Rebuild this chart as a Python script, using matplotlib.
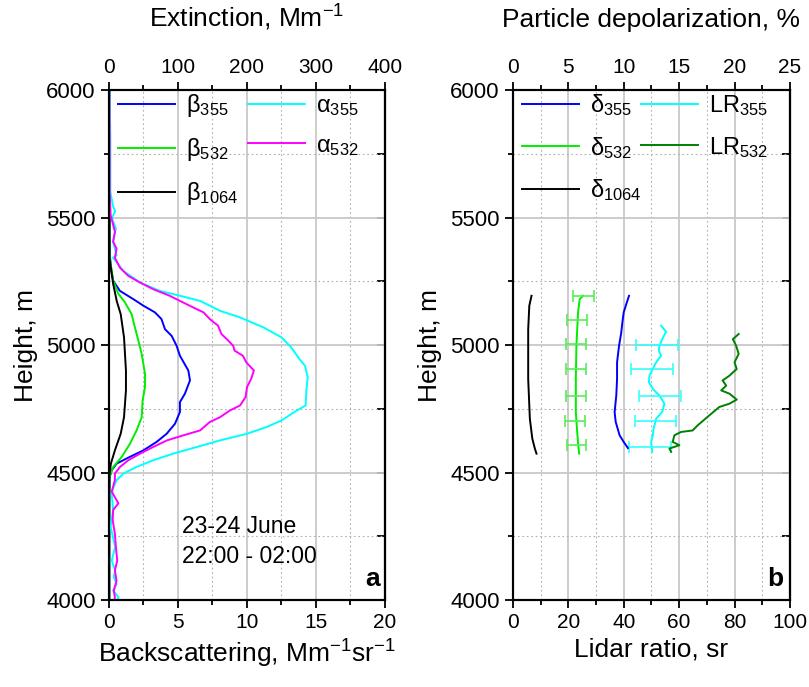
import numpy as np
import matplotlib
matplotlib.use("Agg")
import matplotlib.pyplot as plt
from matplotlib.ticker import MultipleLocator

plt.rcParams['font.family'] = ['Liberation Sans', 'DejaVu Sans']
plt.rcParams['mathtext.fontset'] = 'custom'
plt.rcParams['mathtext.rm'] = 'Liberation Sans'
plt.rcParams['mathtext.it'] = 'Liberation Sans:italic'
plt.rcParams['mathtext.bf'] = 'Liberation Sans:bold'

# ---- panel a: backscattering (Mm-1 sr-1) ----
h_b355 = [6000, 5800, 5600, 5450, 5342, 5290, 5251, 5212, 5180, 5154, 5128, 5102, 5062, 5036,
          4997, 4958, 4900, 4861, 4809, 4776, 4737, 4691, 4652, 4620, 4587, 4561, 4535, 4509,
          4483, 4400, 4200, 4000]
b355 = [0.05, 0.05, 0.05, 0.05, 0.08, 0.18, 0.31, 0.8, 1.76, 2.5, 3.33, 3.8, 4.06, 4.54,
        4.9, 5.14, 5.75, 5.87, 5.5, 5.14, 5.14, 4.78, 4.18, 3.45, 2.5, 1.5, 0.56, 0.2,
        0.05, 0.03, 0.03, 0.03]

h_b532 = [6000, 5600, 5342, 5251, 5201, 5167, 5121, 5069, 5017, 4965, 4887, 4835, 4783, 4717,
          4665, 4613, 4561, 4522, 4483, 4300, 4000]
b532 = [0.03, 0.03, 0.05, 0.31, 0.68, 1.16, 1.64, 1.88, 2.13, 2.37, 2.61, 2.61, 2.44, 2.37,
        2.0, 1.52, 0.92, 0.31, 0.03, 0.02, 0.02]

h_b1064 = [6000, 5600, 5342, 5238, 5173, 5121, 5030, 4900, 4822, 4717, 4652, 4587, 4535, 4483,
           4300, 4000]
b1064 = [0.02, 0.02, 0.03, 0.31, 0.56, 0.85, 1.09, 1.23, 1.23, 1.09, 0.85, 0.43, 0.14, 0.02,
         0.01, 0.01]

# extinction (Mm-1)
h_a355 = [6000, 5800, 5600, 5544, 5524, 5497, 5458, 5405, 5352, 5342, 5290, 5245, 5212, 5193,
          5173, 5134, 5108, 5069, 5030, 4991, 4945, 4919, 4874, 4822, 4763, 4743, 4704, 4678,
          4652, 4626, 4600, 4574, 4548, 4522, 4496, 4470, 4437, 4418, 4353, 4287, 4208, 4155,
          4116, 4090, 4063, 4037, 4010, 4000]
a355 = [1, 2, 2, 6, 9, 4, 10, 6, 11, 6, 21, 45, 74, 103,
        132, 161, 190, 224, 250, 264, 276, 284, 288, 286, 285, 272, 250, 228,
        200, 161, 127, 93, 64, 40, 21, 11, 6, 4, 6, 2.4, 9, 4,
        9, 7, 11, 6, 14, 12]

h_a532 = [6000, 5800, 5600, 5510, 5444, 5405, 5378, 5342, 5303, 5271, 5245, 5219, 5193, 5154,
          5128, 5102, 5076, 5043, 5017, 4997, 4978, 4958, 4932, 4900, 4867, 4835, 4796, 4763,
          4743, 4717, 4698, 4665, 4646, 4626, 4600, 4574, 4548, 4522, 4496, 4471, 4425, 4379,
          4353, 4313, 4260, 4208, 4155, 4116, 4076, 4037, 4010, 4000]
a532 = [0.5, 1, 1, 2.4, 8.6, 6, 11, 8.6, 16, 28, 45, 64, 88, 117,
        137, 146, 158, 163, 173, 180, 182, 194, 199, 210, 206, 200, 198, 190,
        175, 161, 146, 132, 108, 84, 64, 45, 28, 16, 8.6, 8.6, 4, 13.6,
        6, 5.4, 8.6, 10, 12, 8.6, 11, 7, 8.6, 8]

# ---- panel b: depolarization (%) and lidar ratio (sr) ----
h_d1064 = [5193, 5154, 5062, 4867, 4711, 4633, 4594, 4574]
d1064 = [1.68, 1.48, 1.38, 1.38, 1.53, 1.75, 1.98, 2.13]

h_d532 = [5193, 5180, 5128, 4997, 4867, 4737, 4659, 4607, 4574]
d532 = [6.33, 6.03, 5.88, 5.73, 5.68, 5.68, 5.8, 5.9, 5.98]
h_d532_err = [5193, 5099, 5004, 4904, 4800, 4702, 4607]
d532_err_val = [6.33, 5.8, 5.7, 5.7, 5.69, 5.6, 5.76]
d532_err = [0.95, 0.88, 0.88, 0.88, 0.88, 0.88, 0.88]

h_d355 = [5193, 5160, 5128, 5089, 5049, 4997, 4932, 4867, 4802, 4737, 4698, 4646, 4620, 4596]
d355 = [10.48, 10.23, 10.0, 9.88, 9.78, 9.58, 9.4, 9.4, 9.33, 9.18, 9.28, 9.63, 10.0, 10.38]

h_lr355 = [5076, 5052, 5023, 4997, 4978, 4958, 4932, 4906, 4880, 4854, 4828, 4802, 4770, 4737,
           4711, 4672, 4646, 4620, 4581]
lr355 = [53.5, 55.3, 53.9, 52.9, 52.7, 53.5, 51.7, 50.5, 49.3, 49.1, 50.5, 52.9, 54.7, 53.9,
         51.7, 50.8, 50.5, 49.9, 50.3]
h_lr355_err = [5001, 4904, 4800, 4702, 4600]
lr355_err_val = [52.0, 50.3, 53.1, 51.5, 49.6]
lr355_err = [7.7, 7.5, 7.6, 7.4, 7.6]

h_lr532 = [5043, 5023, 4997, 4965, 4932, 4906, 4880, 4861, 4841, 4822, 4809, 4786, 4770, 4757,
           4724, 4685, 4665, 4659, 4646, 4620, 4607, 4594, 4581]
lr532 = [81.5, 79.4, 80.6, 81.5, 80.0, 80.8, 78.2, 75.7, 77.0, 75.2, 78.2, 80.8, 78.2, 74.5,
         70.9, 66.7, 64.9, 60.7, 58.3, 57.7, 60.1, 56.5, 57.1]

LW = 1.4
TICK_X = 15
TICK_Y = 16
LAB = 19


def style_axes(ax, top, xmax, xmaj, xmin, tmax, tmaj, tmin):
    ax.set_xlim(0, xmax)
    ax.set_ylim(4000, 6000)
    ax.xaxis.set_major_locator(MultipleLocator(xmaj))
    ax.xaxis.set_minor_locator(MultipleLocator(xmin))
    ax.yaxis.set_major_locator(MultipleLocator(500))
    ax.yaxis.set_minor_locator(MultipleLocator(250))
    ax.grid(which='major', color='#c8c8c8', lw=1.3, ls='-')
    ax.grid(which='minor', color='#b0b0b0', lw=0.8, ls=(0, (1.5, 2.5)))
    ax.set_axisbelow(True)
    ax.tick_params(which='both', direction='out', width=1.3, top=False, right=False)
    ax.tick_params(axis='x', labelsize=TICK_X)
    ax.tick_params(axis='y', labelsize=TICK_Y)
    ax.tick_params(which='major', length=6)
    ax.tick_params(which='minor', length=3.5)
    sec = ax.secondary_yaxis('right')
    sec.yaxis.set_major_locator(MultipleLocator(500))
    sec.yaxis.set_minor_locator(MultipleLocator(250))
    sec.tick_params(which='both', direction='in', width=1.3, labelright=False)
    sec.tick_params(which='major', length=6)
    sec.tick_params(which='minor', length=6)
    sec.spines['right'].set_linewidth(1.5)
    top.set_xlim(0, tmax)
    top.xaxis.set_major_locator(MultipleLocator(tmaj))
    top.xaxis.set_minor_locator(MultipleLocator(tmin))
    top.tick_params(which='both', direction='out', width=1.3, labelsize=TICK_X)
    top.tick_params(which='major', length=6)
    top.tick_params(which='minor', length=3.5)
    for a in (ax, top):
        for s in a.spines.values():
            s.set_linewidth(1.5)
    ax.set_ylabel('Height, m', fontsize=LAB, labelpad=6)


fig = plt.figure(figsize=(8.09, 6.87), dpi=100)
ax1 = fig.add_axes([0.1347, 0.1266, 0.3412, 0.7424])
ax1t = ax1.twiny()
ax2 = fig.add_axes([0.634, 0.1266, 0.3424, 0.7424])
ax2t = ax2.twiny()

style_axes(ax1, ax1t, 20, 5, 2.5, 400, 100, 50)
style_axes(ax2, ax2t, 100, 20, 10, 25, 5, 2.5)

leg_kw = dict(ncol=2, loc='upper left', bbox_to_anchor=(0.0, 1.015), frameon=False,
              fontsize=17, handlelength=2.4, handletextpad=0.45, labelspacing=0.72,
              borderaxespad=0.0)

# panel a
l1, = ax1.plot(b355, h_b355, color='#0000ff', lw=LW, label=r'$\mathregular{β_{355}}$')
l2, = ax1.plot(b532, h_b532, color='#00ee00', lw=LW, label=r'$\mathregular{β_{532}}$')
l3, = ax1.plot(b1064, h_b1064, color='black', lw=LW, label=r'$\mathregular{β_{1064}}$')
l4, = ax1t.plot(a355, h_a355, color='#00ffff', lw=LW, label=r'$\mathregular{α_{355}}$')
l5, = ax1t.plot(a532, h_a532, color='#ff00ff', lw=LW, label=r'$\mathregular{α_{532}}$')
ax1t.set_ylim(4000, 6000)

ax1.set_xlabel(r'Backscattering, Mm$^{\mathregular{-1}}$sr$^{\mathregular{-1}}$', fontsize=LAB, labelpad=4)
ax1t.set_xlabel(r'Extinction, Mm$^{\mathregular{-1}}$', fontsize=LAB, labelpad=22)
ax1t.legend(handles=[l1, l2, l3, l4, l5], columnspacing=0.45, **leg_kw)
ax1.text(0.264, 0.131, '23-24 June', transform=ax1.transAxes, fontsize=16.5, va='baseline')
ax1.text(0.264, 0.072, '22:00 - 02:00', transform=ax1.transAxes, fontsize=16.5, va='baseline')
ax1.text(0.982, 0.027, 'a', transform=ax1.transAxes, fontsize=19, fontweight='bold',
         ha='right', va='baseline')

# panel b
m1, = ax2t.plot(d355, h_d355, color='#0000ff', lw=LW, label=r'$\mathregular{δ_{355}}$')
m2, = ax2t.plot(d532, h_d532, color='#00ee00', lw=LW, label=r'$\mathregular{δ_{532}}$')
ax2t.errorbar(d532_err_val, h_d532_err, xerr=d532_err, fmt='none', ecolor='#55ee55',
              elinewidth=1.2, capsize=4, capthick=1.2)
m3, = ax2t.plot(d1064, h_d1064, color='black', lw=LW, label=r'$\mathregular{δ_{1064}}$')
m4, = ax2.plot(lr355, h_lr355, color='#00ffff', lw=LW, label=r'$\mathregular{LR_{355}}$')
ax2.errorbar(lr355_err_val, h_lr355_err, xerr=lr355_err, fmt='none', ecolor='#33ffff',
             elinewidth=1.2, capsize=4, capthick=1.2)
m5, = ax2.plot(lr532, h_lr532, color='#008000', lw=LW, label=r'$\mathregular{LR_{532}}$')
ax2t.set_ylim(4000, 6000)

ax2.set_xlabel('Lidar ratio, sr', fontsize=LAB, labelpad=4)
ax2t.set_xlabel('Particle depolarization, %', fontsize=LAB, labelpad=22)
ax2t.legend(handles=[m1, m2, m3, m4, m5], columnspacing=0.0, **leg_kw)
ax2.text(0.978, 0.027, 'b', transform=ax2.transAxes, fontsize=19, fontweight='bold',
         ha='right', va='baseline')

fig.savefig('out.png', dpi=100)
